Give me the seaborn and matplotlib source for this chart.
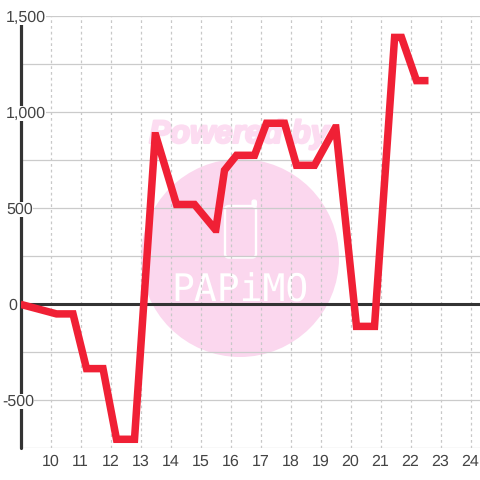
import matplotlib
matplotlib.use("Agg")
import matplotlib.pyplot as plt
import matplotlib.patheffects as pe
import seaborn as sns
import pandas as pd
from matplotlib.patches import Ellipse, FancyBboxPatch
from matplotlib.ticker import NullFormatter

hours = [9.0, 10.2, 10.75, 11.2, 11.75, 12.2, 12.8, 13.49, 13.51, 14.2, 14.8, 15.49, 15.51, 15.8, 16.2, 16.8,
         17.2, 17.8, 18.2, 18.8, 19.49, 19.51, 20.2, 20.8, 21.47, 21.7, 22.2, 22.6]
values = [0, -50, -50, -335, -335, -703, -703, 878, 878, 520, 520, 390, 390, 698, 776, 776,
          943, 943, 724, 724, 919, 919, -115, -115, 1390, 1390, 1165, 1165]
x_ticks = list(range(10, 25))
y_major = [-500, 0, 500, 1000, 1500]
y_minor = [-750, -250, 250, 750, 1250]
label_left_px = {1500: 6, 1000: 6, 500: 6, 0: 8, -500: 2}

sns.set_theme(style="white")
plt.rcParams['font.family'] = ['Liberation Sans', 'DejaVu Sans']
plt.rcParams['text.hinting'] = 'no_hinting'
plt.rcParams['text.hinting_factor'] = 1
W = 480
fig = plt.figure(figsize=(4.8, 4.8), dpi=100, facecolor="white")
ax = fig.add_axes([20.5/W, 31.7/W, 459.5/W, 432/W])
ax.set_xlim(9, 9 + 459.5/30)
ax.set_ylim(-750, 1500)
ax.set_facecolor("none")
for s in ax.spines.values():
    s.set_visible(False)

# watermark
wm = fig.transFigure
fig.add_artist(Ellipse((240/W, 1-258/W), 198/W, 198/W, transform=wm, fc="#fbd7ee", ec="none", zorder=-5))
t = fig.text(239/W, 1-134.5/W, "Powered by", transform=wm, color="#fcdcf1", fontsize=23, fontweight="bold",
             fontstyle="italic", ha="center", va="center", zorder=-4)
t.set_path_effects([pe.withStroke(linewidth=1.8, foreground="#fcdcf1")])
fig.add_artist(FancyBboxPatch((225/W, 1-257.5/W), 31/W, 51.5/W, boxstyle="round,pad=0,rounding_size=0.008",
                              transform=wm, fc="none", ec="white", lw=1.7, zorder=-3))
fig.add_artist(FancyBboxPatch((252/W, 1-207/W), 4.5/W, 7/W, boxstyle="round,pad=0,rounding_size=0.004",
                              transform=wm, fc="white", ec="white", lw=0.8, zorder=-3))
fig.text(240/W, 1-291/W, "PAPiMO", transform=wm, color="white", fontsize=27, family="DejaVu Sans Mono",
         ha="center", va="center", zorder=-3)

ax.set_xticks(x_ticks)
ax.set_yticks(y_major + y_minor)
ax.yaxis.set_major_formatter(NullFormatter())
ax.grid(axis="x", color="#c8c8c8", lw=0.9, ls=(0, (2.2, 2.4)), zorder=1)
ax.grid(axis="y", color="#cbcbcb", lw=0.9, ls="-", zorder=1)
ax.set_axisbelow(True)
ax.axhline(0, color="#333333", lw=2.2, zorder=2)
ax.axvline(9, color="#333333", lw=2.3, zorder=2, clip_on=False)
ax.tick_params(axis="both", length=0, labelcolor="#444444", labelsize=11.5)
ax.tick_params(axis="x", pad=4.5)

df = pd.DataFrame({"hour": hours, "value": values})
sns.lineplot(data=df, x="hour", y="value", ax=ax, color="#f02035", lw=5.4, sort=False, estimator=None,
             solid_joinstyle="miter", solid_capstyle="butt", zorder=3)
ax.set_xlabel("")
ax.set_ylabel("")

# y labels sit over the axis on a white ground
for v in y_major:
    ax.annotate(f"{v:,}", xy=(0, v), xycoords=("axes fraction", "data"),
                xytext=((label_left_px[v] - 20.5) * 0.72, -0.8), textcoords="offset points",
                ha="left", va="center", fontsize=11.5, color="#444444",
                annotation_clip=False, zorder=4,
                bbox=dict(fc="white", ec="none", pad=0.2) if v != 0 else None)
fig.savefig("out.png", dpi=100)
